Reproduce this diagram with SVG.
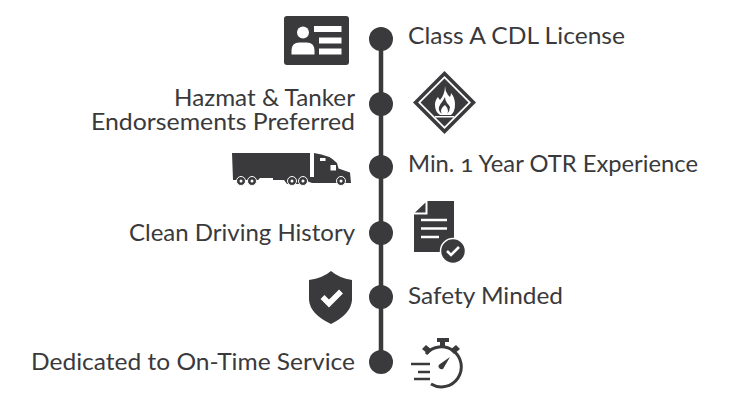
<svg xmlns="http://www.w3.org/2000/svg" width="750" height="400" viewBox="0 0 750 400">
<style>
text{font-family:"Lato","Open Sans","Liberation Sans",sans-serif;font-size:23px;fill:#3a393b;font-variant-numeric:oldstyle-nums}
.r{text-anchor:end}
.d{fill:#3a393b}
.w{fill:#fff}
.dot{fill:#3a393b}
.s{fill:none;stroke:#3a393b;stroke-width:3}
</style>
<rect width="750" height="400" fill="#fff"/>
<g id="connectors"><line x1="381" y1="39" x2="381" y2="362" stroke="#3a393b" stroke-width="4.500"/></g>
<g id="node-1"><circle class="dot" cx="381" cy="39" r="12"/>
<rect class="d" x="284" y="16" width="65" height="49" rx="3"/>
<circle class="w" cx="303" cy="32.500" r="6"/><path class="w" d="M291.500 54.500v-4q0-8 8-8h7q8 0 8 8v4z"/>
<rect class="w" x="314" y="26" width="27.500" height="6"/><rect class="w" x="319" y="37.500" width="22.500" height="6"/><rect class="w" x="319" y="48.500" width="22.500" height="6"/>
<text x="408" y="44" textLength="217" lengthAdjust="spacingAndGlyphs">Class A CDL License</text></g>
<g id="node-2"><circle class="dot" cx="381" cy="104" r="12"/>
<path class="d" d="M444.500 71L476 102.500L444.500 134L413 102.500z"/>
<path class="w" d="M444.500 76L471 102.500L444.500 129L418 102.500z"/>
<path class="d" d="M444.500 78.500L468.500 102.500L444.500 126.500L420.500 102.500z"/>
<path class="w" d="M445 86q0 5 3 9q1 1 2 2q1-2 1-4q4 5 4 11q0 8-4 11h-11q-5-3-5-10q0-5 3-8q1 2 2 3q5-6 5-14z"/>
<path class="d" d="M445 97q0 3 2 6q2 2 3 4q0 4-3 7h-5q-4-3-3-7q1-3 3-5q2-3 3-5z"/>
<path class="w" d="M445 105q3 3 3 6t-2 4h-3q-2-1-2-4t4-6z"/>
<rect class="w" x="435" y="116" width="19" height="1.500"/>
<text class="r" x="355" y="106" textLength="181" lengthAdjust="spacingAndGlyphs">Hazmat &amp; Tanker</text>
<text class="r" x="355" y="130" textLength="264" lengthAdjust="spacingAndGlyphs">Endorsements Preferred</text></g>
<g id="node-3"><circle class="dot" cx="381" cy="167" r="12"/>
<path class="d" d="M232 153H310V177H314V153Q330 155 337 163L338.500 168.500L350 172.500L351 183H312L304 180V184H287L284 180H273V178H260V178L258 180H246L243 180H233z"/>
<rect class="w" x="320" y="158" width="5.500" height="3"/><rect class="w" x="330.500" y="165" width="5.500" height="5.500"/>
<g fill="#3a393b" stroke="#fff" stroke-width="1"><circle cx="241" cy="181" r="4.500"/><circle cx="252" cy="181" r="4.500"/><circle cx="292" cy="181" r="4.500"/><circle cx="303" cy="181" r="4.500"/><circle cx="341" cy="181" r="4.500"/></g>
<g class="w"><circle cx="241" cy="181" r="1.500"/><circle cx="252" cy="181" r="1.500"/><circle cx="292" cy="181" r="1.500"/><circle cx="303" cy="181" r="1.500"/><circle cx="341" cy="181" r="1.500"/></g>
<text x="408" y="172" textLength="290" lengthAdjust="spacingAndGlyphs">Min. 1 Year OTR Experience</text></g>
<g id="node-4"><circle class="dot" cx="381" cy="233" r="12"/>
<path class="d" d="M427.500 201H454V252H414V214.500H427.500z"/>
<path class="d" d="M415 212.500L425.500 202.500V212.500z"/>
<g stroke="#fff" stroke-width="2.500"><line x1="421" y1="220" x2="447" y2="220"/><line x1="421" y1="228.500" x2="447" y2="228.500"/><line x1="421" y1="237" x2="439" y2="237"/></g>
<circle class="d" cx="453" cy="251" r="12.500" stroke="#fff" stroke-width="1.500"/>
<path d="M447 251l4 4 8-8" fill="none" stroke="#fff" stroke-width="2.500"/>
<text class="r" x="355" y="241" textLength="226" lengthAdjust="spacingAndGlyphs">Clean Driving History</text></g>
<g id="node-5"><circle class="dot" cx="381" cy="297" r="12"/>
<path class="d" d="M331 271Q339 278 352 280V300Q351 314 331 324Q310 314 309 300V280Q323 278 331 271z"/>
<path d="M322.500 297l6.500 6.500 12-12" fill="none" stroke="#fff" stroke-width="5.500"/>
<text x="408" y="304" textLength="155" lengthAdjust="spacingAndGlyphs">Safety Minded</text></g>
<g id="node-6"><circle class="dot" cx="381" cy="362" r="12"/>
<path class="s" d="M426 354A20 20 0 1 1 431 384"/>
<path class="d" d="M437 338H449V342H445V347H440V342H437z"/>
<path class="d" d="M422 349L426 345L432 350L428 354zM460 349L456 345L450 350L454 354z"/>
<path class="d" d="M450 357L443 369Q440 370 438.500 367Q438 365 440 364z"/>
<g stroke="#3a393b" stroke-width="2.500"><line x1="411" y1="364" x2="430" y2="364"/><line x1="418" y1="372" x2="430" y2="372"/><line x1="414" y1="379" x2="430" y2="379"/></g>
<text class="r" x="355" y="370" textLength="324" lengthAdjust="spacingAndGlyphs">Dedicated to On-Time Service</text></g>
</svg>
